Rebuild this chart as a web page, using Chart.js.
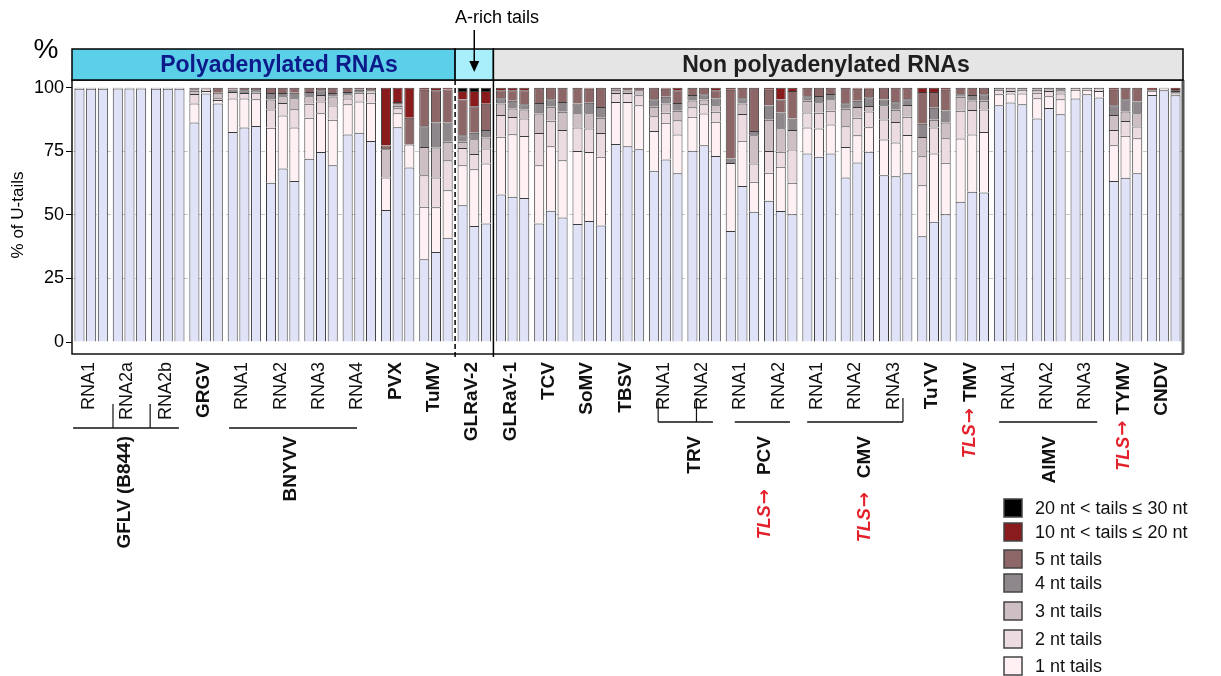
<!DOCTYPE html>
<html>
<head>
<meta charset="utf-8">
<script src="https://cdn.jsdelivr.net/npm/chart.js@4.4.0/dist/chart.umd.min.js"></script>
<style>
body { margin: 0; background: #fff; }
canvas { display: block; }
</style>
</head>
<body>
<canvas id="uTails" width="1221" height="676"></canvas>
<script>
// ---- DATA: one label per x category, 3 replicate bars per category ----
const categories = ['RNA1', 'RNA2a', 'RNA2b', 'GRGV', 'RNA1', 'RNA2', 'RNA3', 'RNA4', 'PVX', 'TuMV',
  'GLRaV-2', 'GLRaV-1', 'TCV', 'SoMV', 'TBSV', 'RNA1', 'RNA2', 'RNA1', 'RNA2', 'RNA1', 'RNA2', 'RNA3',
  'TuYV', 'TMV', 'RNA1', 'RNA2', 'RNA3', 'TYMV', 'CNDV'];
const tlsCategories = ['TMV', 'TYMV'];
const groupNames = ['GFLV (B844)', 'BNYVV', 'TRV', 'PCV', 'CMV', 'AlMV'];
const tlsGroups = ['PCV', 'CMV'];
const yTicks = [0, 25, 50, 75, 100];

// % of reads per tail class, 3 values (replicates) per category
const noTail = [
  99.6, 99.6, 99.6, 99.7, 99.7, 99.7, 99.6, 99.6, 99.6, 86.3, 97.7, 93.8,
  82.6, 84.3, 84.9, 62.6, 68.2, 63.3, 72.0, 74.7, 69.5, 81.6, 82.3, 79.0,
  51.9, 84.4, 68.6, 32.5, 35.4, 41.0, 53.8, 45.6, 46.6, 58.0, 57.1, 56.6,
  46.6, 51.6, 49.0, 46.4, 47.6, 45.8, 77.8, 77.0, 75.8, 67.3, 71.8, 66.3,
  75.2, 77.4, 73.1, 43.6, 61.3, 51.2, 55.5, 51.5, 50.2, 74.1, 72.8, 74.1,
  64.7, 70.6, 74.8, 65.6, 65.2, 66.3, 41.6, 47.3, 50.2, 55.1, 59.1, 58.8,
  93.1, 94.2, 93.5, 87.9, 92.0, 89.5, 95.7, 97.4, 96.1, 63.3, 64.6, 66.3,
  97.1, 99.0, 97.0];
const nt1 = [
  0.4, 0.4, 0.4, 0.3, 0.3, 0.3, 0.4, 0.4, 0.4, 7.5, 1.0, 1.3,
  13.1, 11.4, 10.5, 21.6, 20.8, 21.0, 16.2, 15.2, 17.9, 11.9, 12.2, 15.1,
  12.8, 5.5, 9.0, 20.7, 17.6, 18.7, 15.7, 22.3, 23.6, 22.7, 24.6, 24.4,
  22.9, 25.4, 22.5, 28.7, 27.1, 27.0, 16.6, 17.4, 17.3, 15.7, 14.4, 15.3,
  13.4, 12.4, 13.5, 26.8, 17.8, 11.8, 11.0, 17.4, 12.4, 10.2, 11.1, 11.4,
  12.0, 10.7, 9.6, 14.0, 13.2, 15.1, 20.0, 26.8, 20.3, 24.9, 22.5, 23.8,
  4.3, 3.5, 4.2, 7.9, 4.6, 5.9, 3.5, 1.8, 2.6, 14.1, 16.5, 13.8,
  1.7, 0.7, 0];
const nt2 = [
  0, 0, 0, 0, 0, 0, 0, 0, 0, 3.7, 0.5, 0.7,
  2.6, 2.2, 2.6, 7.2, 5.0, 7.2, 5.5, 4.6, 5.6, 2.2, 3.5, 3.9,
  0, 2.0, 0, 12.4, 11.7, 11.8, 6.8, 6.0, 5.9, 8.5, 6.8, 6.9,
  12.7, 10.0, 11.8, 9.2, 9.2, 9.4, 3.5, 3.5, 3.9, 5.8, 3.9, 5.6,
  3.7, 3.7, 3.9, 0, 10.5, 7.2, 8.6, 5.9, 13.1, 5.9, 6.2, 5.4,
  8.1, 6.9, 6.2, 7.9, 8.1, 7.2, 11.4, 10.2, 9.6, 10.9, 9.6, 8.8,
  1.8, 1.0, 1.5, 2.2, 2.1, 2.3, 0, 0, 0.5, 5.9, 5.8, 4.6,
  0, 0.3, 0.7];
const nt3 = [
  0, 0, 0, 0, 0, 0, 0, 0, 0, 1.3, 0.4, 2.2,
  0, 0, 0, 3.9, 2.6, 4.3, 2.9, 2.6, 3.5, 1.7, 0, 1.0,
  11.1, 1.0, 0, 11.1, 11.8, 7.2, 2.4, 5.8, 4.3, 4.6, 3.3, 3.5,
  7.6, 5.5, 7.2, 5.6, 6.0, 6.0, 1.3, 1.0, 2.0, 3.7, 3.7, 3.7,
  2.6, 1.8, 2.6, 0, 4.2, 11.1, 12.3, 9.2, 7.6, 4.6, 4.2, 4.5,
  6.9, 4.2, 2.2, 5.6, 4.8, 4.6, 7.6, 3.1, 6.2, 5.5, 3.7, 3.4,
  0, 1.3, 0, 1.2, 0.5, 1.3, 0.8, 0.8, 0.8, 5.9, 3.7, 5.2,
  0, 0, 0];
const nt4 = [
  0, 0, 0, 0, 0, 0, 0, 0, 0, 0.6, 0, 0,
  1.0, 1.1, 1.0, 2.6, 1.3, 2.2, 1.7, 1.9, 1.4, 0.9, 1.2, 0,
  0, 0.5, 0, 8.1, 9.8, 7.6, 2.6, 2.6, 2.9, 2.0, 3.0, 2.1,
  4.2, 2.9, 3.9, 3.9, 4.2, 4.2, 0, 0, 0, 2.9, 2.6, 3.1,
  2.2, 2.1, 2.6, 1.7, 2.0, 1.7, 5.6, 6.2, 4.6, 1.8, 2.4, 2.1,
  2.2, 2.4, 3.4, 2.2, 3.0, 2.2, 5.2, 4.7, 4.7, 1.0, 2.2, 2.6,
  0.8, 0, 0.8, 0.8, 0.8, 1.0, 0, 0, 0, 3.9, 4.8, 4.6,
  0, 0, 1.0];
const nt5 = [
  0, 0, 0, 0, 0, 0, 0, 0, 0, 0.6, 0.4, 2.0,
  0.7, 1.0, 1.0, 2.1, 2.1, 2.0, 1.7, 1.0, 2.1, 1.7, 0.8, 1.0,
  1.5, 1.0, 10.6, 14.4, 12.7, 13.0, 14.0, 10.4, 10.4, 3.2, 4.2, 5.5,
  6.0, 4.6, 5.6, 6.2, 5.5, 7.6, 0.8, 1.1, 1.0, 4.6, 3.2, 5.0,
  2.9, 2.6, 3.3, 27.1, 4.2, 17.0, 6.2, 5.1, 10.8, 3.4, 3.3, 2.5,
  6.1, 4.8, 3.4, 4.7, 5.7, 4.6, 12.5, 6.2, 8.2, 2.6, 2.9, 2.6,
  0, 0, 0, 0, 0, 0, 0, 0, 0, 6.1, 4.6, 5.5,
  0.7, 0, 0.8];
const nt10to20 = [
  0, 0, 0, 0, 0, 0, 0, 0, 0, 0, 0, 0,
  0, 0, 0, 0, 0, 0, 0, 0, 0, 0, 0, 0,
  22.7, 5.6, 11.8, 0.8, 1.0, 0.7, 3.4, 6.0, 5.0, 1.0, 1.0, 1.0,
  0, 0, 0, 0, 0.4, 0, 0, 0, 0, 0, 0.4, 1.0,
  0, 0, 1.0, 0.8, 0, 0, 0.8, 4.7, 1.3, 0, 0, 0,
  0, 0.4, 0.4, 0, 0, 0, 1.7, 1.7, 0.8, 0, 0, 0,
  0, 0, 0, 0, 0, 0, 0, 0, 0, 0.8, 0, 0,
  0.5, 0, 0.5];
const nt20to30 = [
  0, 0, 0, 0, 0, 0, 0, 0, 0, 0, 0, 0,
  0, 0, 0, 0, 0, 0, 0, 0, 0, 0, 0, 0,
  0, 0, 0, 0, 0, 0, 1.3, 1.3, 1.3, 0, 0, 0,
  0, 0, 0, 0, 0, 0, 0, 0, 0, 0, 0, 0,
  0, 0, 0, 0, 0, 0, 0, 0, 0, 0, 0, 0,
  0, 0, 0, 0, 0, 0, 0, 0, 0, 0, 0, 0,
  0, 0, 0, 0, 0, 0, 0, 0, 0, 0, 0, 0,
  0, 0, 0];

const seriesLabels = ['no U-tail', '1 nt tails', '2 nt tails', '3 nt tails', '4 nt tails', '5 nt tails',
  '10 nt < tails ≤ 20 nt', '20 nt < tails ≤ 30 nt'];
const seriesValues = [noTail, nt1, nt2, nt3, nt4, nt5, nt10to20, nt20to30];
const seriesColors = ['#e0e3f8', '#fff0f3', '#ecdce1', '#cdbfc4', '#8e878b', '#8d6667', '#8a1b1c', '#000000'];

// ---- LAYOUT (category index units, not data) ----
const FONT = "'Liberation Sans', Arial, Helvetica, sans-serif";
const TLS_RED = '#e4202a';
const groupLayout = [
  {from: -0.47, to: 2.29, at: 0.88, y: 428, ticks: [0.57, 1.54]},
  {from: 3.6, to: 6.94, at: 5.22, y: 428, ticks: []},
  {from: 14.8, to: 16.23, at: 15.76, y: 422, ticks: [14.8, 15.8]},
  {from: 16.8, to: 18.24, at: 17.59, y: 422, ticks: []},
  {from: 18.69, to: 21.19, at: 20.2, y: 422, ticks: [21.19]},
  {from: 23.7, to: 26.26, at: 25.03, y: 422, ticks: []}
];
const legendRows = [508, 532, 559, 583, 611, 639, 666];

// vertical text reading bottom to top, its end sits at yTop
function vText(ctx, text, x, yTop, font, color) {
  ctx.save();
  ctx.translate(x, yTop);
  ctx.rotate(-Math.PI / 2);
  ctx.font = font;
  ctx.fillStyle = color;
  ctx.textAlign = 'right';
  ctx.textBaseline = 'middle';
  ctx.fillText(text, 0, 0);
  let w = ctx.measureText(text).width;
  ctx.restore();
  return w;
}

// "TLS→" in red, arrow taken from DejaVu which has a full size glyph
function tlsMark(ctx, x, yTop) {
  const wa = vText(ctx, '→', x, yTop, "bold 18px 'DejaVu Sans'", TLS_RED);
  vText(ctx, 'TLS', x, yTop + wa + 1, 'italic bold 18px ' + FONT, TLS_RED);
}

function line(ctx, x1, y1, x2, y2, color, width, dash) {
  ctx.save();
  ctx.strokeStyle = color;
  ctx.lineWidth = width;
  ctx.setLineDash(dash || []);
  ctx.beginPath();
  ctx.moveTo(x1, y1);
  ctx.lineTo(x2, y2);
  ctx.stroke();
  ctx.restore();
}

const decorations = {
  id: 'decorations',
  afterDatasetsDraw(chart) {
    const ctx = chart.ctx;
    const a = chart.chartArea;
    const xs = chart.scales.x;
    const step = xs.getPixelForValue(1) - xs.getPixelForValue(0);
    const px = i => xs.getPixelForValue(0) + i * step;
    const splitA = px(9.5), splitB = px(10.5);

    // frame of the plot
    ctx.save();
    ctx.strokeStyle = '#111';
    ctx.lineWidth = 1.5;
    ctx.strokeRect(a.left, a.top, a.right - a.left, a.bottom - a.top);
    ctx.restore();
    line(ctx, a.right, a.top, a.right, a.bottom, '#555', 3);

    // header bands
    const hTop = 49, hBot = a.top;
    const bands = [
      [a.left, splitA, '#5dd0e9', 'Polyadenylated RNAs', '#0d1a8a', 279],
      [splitA, splitB, '#a9eefb', '', '#000', 0],
      [splitB, a.right, '#e5e5e5', 'Non polyadenylated RNAs', '#1e1e1e', 826]
    ];
    bands.forEach(b => {
      ctx.fillStyle = b[2];
      ctx.fillRect(b[0], hTop, b[1] - b[0], hBot - hTop);
      ctx.strokeStyle = '#000';
      ctx.lineWidth = 1.5;
      ctx.strokeRect(b[0], hTop, b[1] - b[0], hBot - hTop);
      if (b[3]) {
        ctx.font = 'bold 23px ' + FONT;
        ctx.fillStyle = b[4];
        ctx.textAlign = 'center';
        ctx.textBaseline = 'middle';
        ctx.fillText(b[3], b[5], (hTop + hBot) / 2 + 1);
      }
    });

    // separators of the A-rich group
    line(ctx, splitA, a.top, splitA, a.bottom + 3, '#000', 1.5, [5, 3]);
    line(ctx, splitB, a.top, splitB, a.bottom + 3, '#000', 1.5);

    // A-rich tails note + arrow
    ctx.font = '18px ' + FONT;
    ctx.fillStyle = '#000';
    ctx.textAlign = 'center';
    ctx.textBaseline = 'middle';
    ctx.fillText('A-rich tails', 497, 18);
    const ax = px(10);
    line(ctx, ax, 30, ax, 64, '#000', 1.5);
    ctx.beginPath();
    ctx.moveTo(ax - 5, 61);
    ctx.lineTo(ax + 5, 61);
    ctx.lineTo(ax, 72);
    ctx.closePath();
    ctx.fill();

    // % sign and y title
    ctx.font = '28px ' + FONT;
    ctx.fillText('%', 46, 50);
    ctx.save();
    ctx.translate(18, 215);
    ctx.rotate(-Math.PI / 2);
    ctx.font = '17px ' + FONT;
    ctx.fillText('% of U-tails', 0, 0);
    ctx.restore();

    // category labels
    categories.forEach((c, i) => {
      const x = px(i) - 2;
      const isRna = c.startsWith('RNA');
      const font = isRna ? '18px ' + FONT : 'bold 19px ' + FONT;
      const w = vText(ctx, c, x, 362, font, '#111');
      if (tlsCategories.includes(c)) tlsMark(ctx, x, 362 + w + 6);
    });

    // group brackets and names
    groupLayout.forEach((g, k) => {
      line(ctx, px(g.from), g.y, px(g.to), g.y, '#111', 1.5);
      g.ticks.forEach(t => line(ctx, px(t), g.y - 24, px(t), g.y, '#111', 1.2));
      const name = groupNames[k];
      const w = vText(ctx, name, px(g.at), 436, 'bold 19px ' + FONT, '#111');
      if (tlsGroups.includes(name)) tlsMark(ctx, px(g.at), 436 + w + 14);
    });

    // legend, longest tails first
    ctx.font = '18px ' + FONT;
    ctx.textAlign = 'left';
    ctx.textBaseline = 'middle';
    legendRows.forEach((y, r) => {
      const s = seriesLabels.length - 1 - r;
      ctx.fillStyle = seriesColors[s];
      ctx.fillRect(1004, y - 9, 18, 18);
      ctx.strokeStyle = '#444';
      ctx.lineWidth = 1.5;
      ctx.strokeRect(1004, y - 9, 18, 18);
      ctx.fillStyle = '#111';
      ctx.fillText(seriesLabels[s], 1035, y + 1);
    });
  }
};

// one stack per replicate, one dataset per tail class
const datasets = [];
for (let r = 0; r < 3; r++) {
  seriesValues.forEach((vals, s) => {
    datasets.push({
      label: seriesLabels[s],
      data: categories.map((c, i) => vals[i * 3 + r] || null),
      backgroundColor: seriesColors[s],
      borderColor: '#3a3a3a',
      borderWidth: 1,
      stack: 'rep' + r,
      barPercentage: 0.86,
      categoryPercentage: 0.915
    });
  });
}

let chartUTails = new Chart(document.getElementById('uTails').getContext('2d'), {
  type: 'bar',
  data: { labels: categories, datasets: datasets },
  options: {
    responsive: false,
    animation: false,
    layout: { padding: { left: 0, top: 80, right: 38, bottom: 322 } },
    plugins: { legend: { display: false }, tooltip: { enabled: false } },
    scales: {
      x: { display: false, stacked: true },
      y: {
        stacked: true,
        min: -4.7,
        max: 103,
        afterBuildTicks: s => { s.ticks = yTicks.map(v => ({ value: v })); },
        afterFit: s => { s.width = 72; },
        ticks: { font: { size: 18, family: FONT }, color: '#000', padding: 2 },
        grid: {
          color: ctx => [25, 50, 75].includes(ctx.tick && ctx.tick.value) ? '#c9c9c9' : 'rgba(0,0,0,0)',
          tickColor: '#000',
          tickLength: 6,
          lineWidth: 1
        },
        border: { display: false, dash: [4, 3] }
      }
    }
  },
  plugins: [decorations]
});
</script>
</body>
</html>
